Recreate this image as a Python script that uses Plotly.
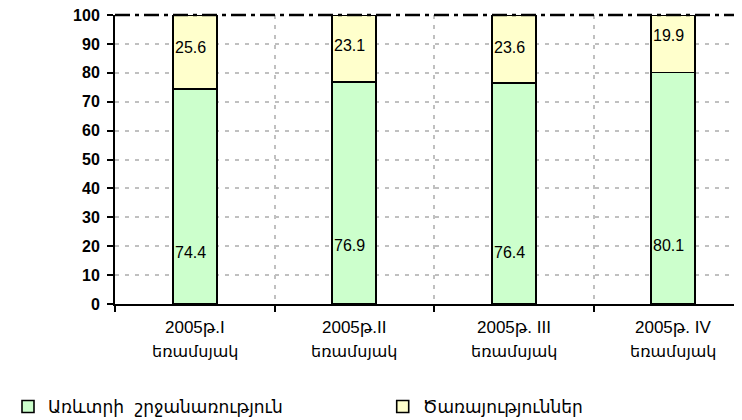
import plotly.graph_objects as go

periods = ["2005թ.I", "2005թ.II", "2005թ. III", "2005թ. IV"]
period_word = "եռամսյակ"
categories = [f"{p}<br>{period_word}" for p in periods]
trade = [74.4, 76.9, 76.4, 80.1]
services = [25.6, 23.1, 23.6, 19.9]
series_names = ["Առևտրի  շրջանառություն", "Ծառայություններ"]
y_ticks = [0, 10, 20, 30, 40, 50, 60, 70, 80, 90, 100]

# label placement (style): value-axis heights of the in-bar labels
trade_label_y = [17.7, 20.2, 17.7, 20.2]
serv_label_y = [88.6, 89.5, 88.6, 93]

BAR_W = 0.276
fig = go.Figure()
fig.add_trace(go.Bar(x=categories, y=trade, name=series_names[0], width=BAR_W, legend="legend",
                     marker=dict(color="#CCFFCC", line=dict(color="black", width=1.6))))
fig.add_trace(go.Bar(x=categories, y=services, name=series_names[1], width=BAR_W, legend="legend2",
                     marker=dict(color="#FFFFCC", line=dict(color="black", width=1.6))))

for i in range(len(categories)):
    for val, ly in ((trade[i], trade_label_y[i]), (services[i], serv_label_y[i])):
        fig.add_annotation(x=i - BAR_W / 2, y=ly, xref="x", yref="y", text=f"{val:.1f}",
                           showarrow=False, xanchor="left", xshift=0,
                           font=dict(family="Liberation Sans, Arial", size=16, color="black"))
    # category labels, two lines
    fig.add_annotation(x=i, y=0, xref="x", yref="paper", text=periods[i], showarrow=False,
                       xanchor="center", yanchor="middle", yshift=-23,
                       font=dict(family="Liberation Sans, DejaVu Sans", size=17, color="black"))
    fig.add_annotation(x=i, y=0, xref="x", yref="paper", text=period_word, showarrow=False,
                       xanchor="center", yanchor="middle", yshift=-47,
                       font=dict(family="DejaVu Sans", size=16, color="black"))

# dash-dot top border of the plot area
fig.add_shape(type="line", xref="paper", yref="paper", x0=0, x1=1, y0=1, y1=1,
              line=dict(color="black", width=2.5, dash="15px,5px,4px,5px"), layer="above")

legend_style = dict(orientation="h", xref="container", xanchor="left",
                    y=0.05, yref="container", yanchor="middle", itemwidth=30,
                    font=dict(family="DejaVu Sans", size=17), bgcolor="rgba(0,0,0,0)")

# the page body has an 8px margin, so the figure is offset by 8px in the window
fig.update_layout(
    barmode="stack",
    width=742, height=420,
    margin=dict(l=107, r=8, t=7, b=124, autoexpand=False),
    plot_bgcolor="white", paper_bgcolor="white",
    font=dict(family="DejaVu Sans", size=13, color="black"),
    showlegend=True,
    legend=dict(x=0.0, **legend_style),
    legend2=dict(x=0.505, **legend_style),
    xaxis=dict(type="category", range=[-0.5, 3.431], tickson="boundaries",
               showline=True, linecolor="black", linewidth=2, automargin=False,
               ticks="outside", ticklen=6, tickwidth=1.5, tickcolor="black",
               showticklabels=False,
               showgrid=True, gridcolor="#C0C0C0", gridwidth=2, griddash="4px,6px"),
    yaxis=dict(range=[0, 100], tickvals=y_ticks, showline=True, linecolor="black", linewidth=2,
               ticks="outside", ticklen=6, tickwidth=1.5, tickcolor="black", automargin=False,
               showgrid=True, gridcolor="#C0C0C0", gridwidth=2, griddash="4px,6px",
               zeroline=False, ticklabelstandoff=4, ticklabeloverflow="allow",
               tickfont=dict(family="Liberation Sans, Arial", size=16, weight="bold")),
)
fig.write_html("out.html")
